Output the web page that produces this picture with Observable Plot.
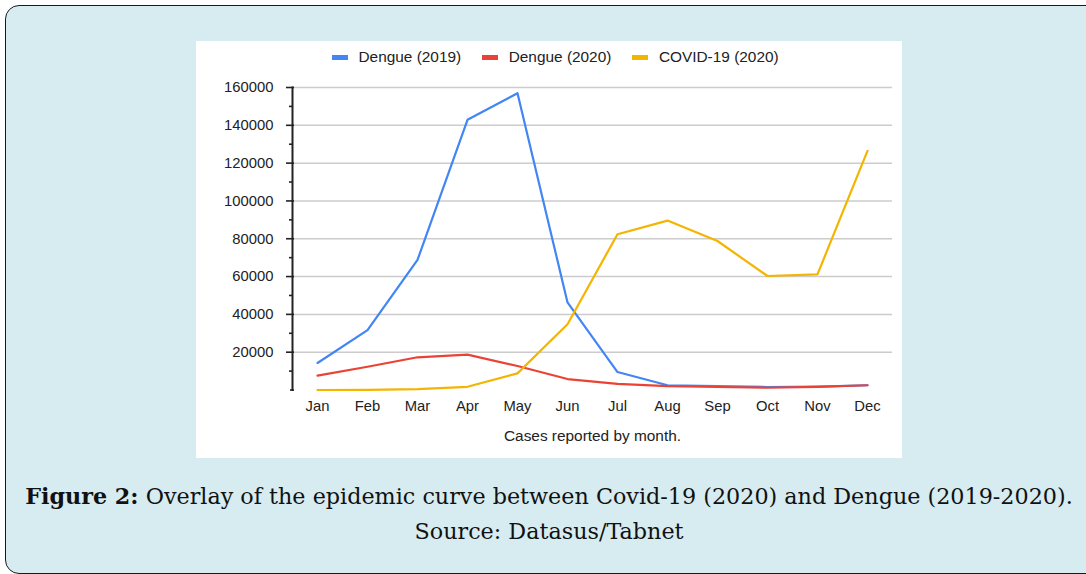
<!DOCTYPE html>
<html><head><meta charset="utf-8">
<script src="https://cdn.jsdelivr.net/npm/d3@7"></script>
<script src="https://cdn.jsdelivr.net/npm/@observablehq/plot@0.6"></script>
<style>
html,body{margin:0;padding:0;background:#fff;width:1086px;height:574px;overflow:hidden;}
#frame{position:absolute;left:5px;top:5px;width:1120px;height:569px;border:1.5px solid #1a1a1a;border-radius:14px;background:#d7ecf1;box-sizing:border-box}
#panel{position:absolute;left:196px;top:41px;width:706px;height:417px;background:#fff}
#legend{position:absolute;left:136px;top:0;height:32px;display:flex;align-items:center;font:15.4px "Liberation Sans",Arial,sans-serif;color:#222;white-space:nowrap}
.item{display:flex;align-items:center;margin-right:21px}
.sw{width:16px;height:5px;margin-right:10.5px}
#chart{position:absolute;left:0;top:32px}
.cap{position:absolute;white-space:nowrap;font-family:"DejaVu Serif",serif;font-size:20px;line-height:30px;color:#111}
</style></head>
<body>
<div id="frame"></div>
<div id="panel"><div id="legend"></div><div id="chart"></div></div>
<div class="cap" id="cap1"><b>Figure 2:</b> Overlay of the epidemic curve between Covid-19 (2020) and Dengue (2019-2020).</div>
<div class="cap" id="cap2">Source: Datasus/Tabnet</div>
<script>
const months = ["Jan","Feb","Mar","Apr","May","Jun","Jul","Aug","Sep","Oct","Nov","Dec"];
const seriesNames = ["Dengue (2019)","Dengue (2020)","COVID-19 (2020)"];
const dengue2019 = [14300, 31700, 68800, 142900, 157000, 46300, 9500, 2500, 2100, 1600, 1800, 2500];
const dengue2020 = [7600, 12300, 17300, 18700, 12700, 5800, 3200, 2100, 1600, 1200, 1700, 2500];
const covid2020 = [0, 100, 500, 1700, 8800, 34800, 82400, 89600, 78800, 60300, 61200, 126500];
const yMajorTicks = [20000, 40000, 60000, 80000, 100000, 120000, 140000, 160000];
const yMinorTicks = [10000, 30000, 50000, 70000, 90000, 110000, 130000, 150000];
const xTitle = "Cases reported by month.";

const colors = ["#4285f4", "#ea4335", "#f4b400"];
const seriesValues = [dengue2019, dengue2020, covid2020];

const rows = months.flatMap((m, i) => seriesNames.map((s, j) => ({month: m, series: s, value: seriesValues[j][i]})));

// legend
const legend = document.getElementById("legend");
seriesNames.forEach((s, j) => {
  const it = document.createElement("div"); it.className = "item";
  const sw = document.createElement("div"); sw.className = "sw"; sw.style.background = colors[j];
  const tx = document.createElement("span"); tx.textContent = s;
  it.append(sw, tx); legend.append(it);
});

const chart = Plot.plot({
  width: 706, height: 385,
  marginLeft: 96, marginRight: 10, marginTop: 14, marginBottom: 68.5,
  x: {type: "point", domain: months, padding: 0.5, label: null},
  y: {domain: [0, 160000], label: null},
  color: {domain: seriesNames, range: colors},
  style: {fontFamily: '"Liberation Sans", Arial, sans-serif', fontSize: "14.8px", color: "#222", background: "white", overflow: "visible"},
  marks: [
    Plot.gridY(yMajorTicks, {stroke: "#cccccc", strokeOpacity: 1, strokeWidth: 1.5}),
    Plot.axisY(yMajorTicks, {tickSize: 8, dx: 2, tickPadding: 13, stroke: "#222", strokeWidth: 1.6, fill: "#222", label: null, tickFormat: d => String(d)}),
    Plot.axisY(yMinorTicks, {tickSize: 3, stroke: "#222", strokeWidth: 1.6, label: null, tickFormat: () => ""}),
    Plot.axisY([0], {tickSize: 4, dx: 2, stroke: "#222", strokeWidth: 1.6, label: null, tickFormat: () => ""}),
    Plot.frame({anchor: "left", stroke: "#222", strokeWidth: 2}),
    Plot.axisX({tickSize: 0, tickPadding: 10, label: null, fill: "#222"}),
    Plot.text([xTitle], {frameAnchor: "bottom", dy: 50.5, fill: "#222", fontSize: 15.4}),
    Plot.lineY(rows, {x: "month", y: "value", z: "series", stroke: "series", strokeWidth: 2.2})
  ]
});
document.getElementById("chart").append(chart);

// caption: fit font size so line 1 matches the reference width
const c1 = document.getElementById("cap1"), c2 = document.getElementById("cap2");
const w0 = c1.getBoundingClientRect().width;
const fs = 20 * 1048 / w0;
[c1, c2].forEach(el => el.style.fontSize = fs + "px");
function place(el, cx, baseline) {
  const w = el.getBoundingClientRect().width;
  el.style.left = (cx - w / 2) + "px";
  el.style.top = (baseline - 15 - 0.346 * fs) + "px";
}
place(c1, 549, 504);
place(c2, 549, 538.5);
</script>
</body></html>
